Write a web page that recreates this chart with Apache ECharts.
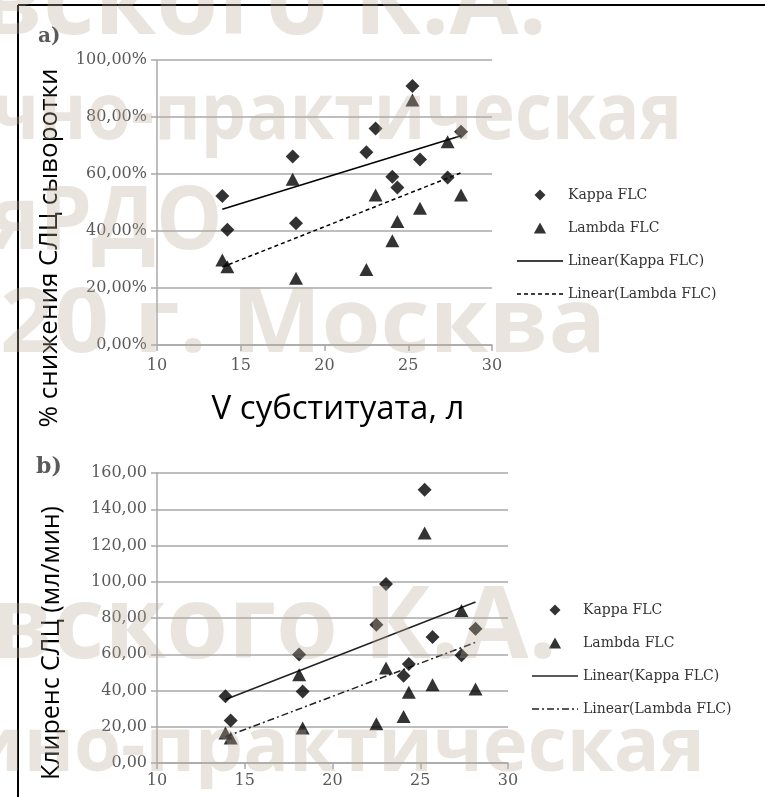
<!DOCTYPE html>
<html><head><meta charset="utf-8">
<script src="https://cdn.jsdelivr.net/npm/echarts@6/dist/echarts.min.js"></script>
<style>html,body{margin:0;padding:0;background:#fff}#c{width:765px;height:797px}</style>
</head><body><div id="c"></div>
<script>
// Substitute volume, L (one value per patient)
const volumeL = [13.9, 14.2, 18.1, 18.3, 22.5, 23.05, 24.05, 24.35, 25.25, 25.7, 27.35, 28.15];
// a) % reduction of serum FLC
const kappaReductionPct  = [52.3, 40.4, 66.1, 42.7, 67.6, 76.0, 59.0, 55.3, 90.9, 65.1, 58.8, 74.8];
const lambdaReductionPct = [29.8, 27.5, 58.2, 23.4, 26.5, 52.6, 36.6, 43.3, 86.0, 48.0, 71.3, 52.6];
// b) FLC clearance, ml/min
const kappaClearance  = [36.8, 23.4, 59.8, 39.5, 76.3, 98.8, 48.2, 54.6, 150.8, 69.5, 59.4, 74.1];
const lambdaClearance = [16.6, 13.8, 48.7, 19.3, 21.7, 52.4, 25.7, 39.0, 126.9, 43.2, 84.2, 40.8];
const legendNames = ['Kappa FLC', 'Lambda FLC', 'Linear(Kappa FLC)', 'Linear(Lambda FLC)'];
const xTitle = 'V субституата, л';
const yTitleA = '% снижения СЛЦ сыворотки';
const yTitleB = 'Клиренс СЛЦ (мл/мин)';
const watermarkRows = ['вского К.А.', 'чно-практическая', 'яРДО', '20 г. Москва', 'вского К.А.', 'ино-практическая'];

function pairs(xs, ys) { return xs.map((x, i) => [x, ys[i]]); }
function trend(xs, ys) {
  const n = xs.length;
  const mx = xs.reduce((a, b) => a + b, 0) / n;
  const my = ys.reduce((a, b) => a + b, 0) / n;
  let sxy = 0, sxx = 0;
  for (let i = 0; i < n; i++) { sxy += (xs[i] - mx) * (ys[i] - my); sxx += (xs[i] - mx) ** 2; }
  const b = sxy / sxx, a = my - b * mx;
  const x0 = Math.min(...xs), x1 = Math.max(...xs);
  return [[x0, a + b * x0], [x1, a + b * x1]];
}

const gridCol = '#a9a9a9';
const labelFont = { color: '#5a5a5a', fontFamily: 'DejaVu Serif', fontSize: 16 };
function xAx(gi, margin) {
  return {
    gridIndex: gi, type: 'value', min: 10, max: 30, interval: 5,
    axisLine: { show: true, lineStyle: { color: gridCol, width: 1.5 } },
    axisTick: { show: true, length: 6, lineStyle: { color: gridCol, width: 1.5 } },
    splitLine: { show: false },
    axisLabel: Object.assign({ margin: margin }, labelFont)
  };
}
function yAx(gi, max, fmt) {
  return {
    gridIndex: gi, type: 'value', min: 0, max: max, interval: 20,
    axisLine: { show: true, lineStyle: { color: gridCol, width: 1.5 } },
    axisTick: { show: true, length: 6, lineStyle: { color: gridCol, width: 1.5 } },
    splitLine: { show: true, lineStyle: { color: gridCol, width: 1.5 } },
    axisLabel: Object.assign({ margin: 10, formatter: fmt }, labelFont)
  };
}
const fmtPct = v => v.toFixed(2).replace('.', ',') + '%';
const fmtNum = v => v.toFixed(2).replace('.', ',');

function scatter(name, gi, xs, ys, sym, size, col) {
  return { type: 'scatter', name: name, xAxisIndex: gi, yAxisIndex: gi, data: pairs(xs, ys),
    symbol: sym, symbolSize: size, itemStyle: { color: col }, z: 3 };
}
function tline(name, gi, xs, ys, col, type) {
  return { type: 'line', name: name, xAxisIndex: gi, yAxisIndex: gi, data: trend(xs, ys),
    symbol: 'none', showSymbol: false, lineStyle: { color: col, width: 1.5, type: type },
    itemStyle: { color: col }, z: 2 };
}
// legend line icons built as filled dash segments (46 wide, 1.6 tall)
function dashIcon(pattern) {
  let d = '', x = 0, on = true, i = 0;
  while (x < 46) {
    const len = Math.min(pattern[i % pattern.length], 46 - x);
    if (on) d += 'M' + x + ',0h' + len + 'v1.6h-' + len + 'z';
    x += len; on = !on; i++;
  }
  return 'path://' + d;
}
const diamondIcon = 'path://M5,0L10,5L5,10L0,5Z';
const triangleIcon = 'path://M5,0L10,9L0,9Z';

function legendData(suffix, lambdaPattern) {
  return [
    { name: legendNames[0] + suffix, icon: diamondIcon },
    { name: legendNames[1] + suffix, icon: triangleIcon },
    { name: legendNames[2] + suffix, icon: dashIcon([46]) },
    { name: legendNames[3] + suffix, icon: dashIcon(lambdaPattern) }
  ];
}
const legendBase = {
  orient: 'vertical', itemWidth: 46, itemHeight: 11, itemGap: 15, symbolKeepAspect: true,
  textStyle: { fontFamily: 'DejaVu Serif', fontSize: 14, color: '#333', lineHeight: 18 },
  formatter: n => n.split('|')[0], selectedMode: false
};

function wm(text, x, baseline, size, sx) {
  return { type: 'text', x: x, y: baseline - size * 0.3, scaleX: sx, z: 100, silent: true,
    style: { text: text, fontSize: size, fontFamily: 'Open Sans', fontWeight: 'bold',
      fill: 'rgba(190,172,155,0.32)', shadowColor: 'rgba(215,160,155,0.25)', shadowBlur: 5,
      verticalAlign: 'middle', align: 'left' } };
}

const option = {
  animation: false,
  backgroundColor: '#fff',
  grid: [
    { left: 157, top: 60, width: 335, height: 285 },
    { left: 157, top: 473, width: 351, height: 290 }
  ],
  xAxis: [xAx(0, 13), xAx(1, 10)],
  yAxis: [yAx(0, 100, fmtPct), yAx(1, 160, fmtNum)],
  legend: [
    Object.assign({ left: 512, top: 181, data: legendData('|a', [4, 3]) }, legendBase),
    Object.assign({ left: 527, top: 596, data: legendData('|b', [7, 3, 2, 3]) }, legendBase)
  ],
  series: [
    scatter(legendNames[0] + '|a', 0, volumeL, kappaReductionPct, 'diamond', 14, '#000'),
    scatter(legendNames[1] + '|a', 0, volumeL, lambdaReductionPct, 'triangle', [14, 13], '#000'),
    tline(legendNames[2] + '|a', 0, volumeL, kappaReductionPct, '#000', 'solid'),
    tline(legendNames[3] + '|a', 0, volumeL, lambdaReductionPct, '#000', [4, 3]),
    scatter(legendNames[0] + '|b', 1, volumeL, kappaClearance, 'diamond', 14, '#000'),
    scatter(legendNames[1] + '|b', 1, volumeL, lambdaClearance, 'triangle', [14, 13], '#000'),
    tline(legendNames[2] + '|b', 1, volumeL, kappaClearance, '#222', 'solid'),
    tline(legendNames[3] + '|b', 1, volumeL, lambdaClearance, '#222', [7, 3, 2, 3])
  ],
  graphic: [
    { type: 'line', shape: { x1: 18, y1: 5, x2: 765, y2: 5 }, style: { stroke: '#000', lineWidth: 2 }, z: 50 },
    { type: 'line', shape: { x1: 18, y1: 5, x2: 18, y2: 797 }, style: { stroke: '#000', lineWidth: 2 }, z: 50 },
    { type: 'text', x: 38, y: 37, style: { text: 'a)', font: 'bold 20px "DejaVu Serif"', fill: '#5a5a5a', verticalAlign: 'middle' } },
    { type: 'text', x: 36, y: 467, style: { text: 'b)', font: 'bold 22px "DejaVu Serif"', fill: '#5a5a5a', verticalAlign: 'middle' } },
    { type: 'text', x: 50, y: 248, rotation: Math.PI / 2, style: { text: yTitleA, font: '26px "Open Sans"', fill: '#000', align: 'center', verticalAlign: 'middle' } },
    { type: 'text', x: 52, y: 643, rotation: Math.PI / 2, style: { text: yTitleB, font: '25px "Open Sans"', fill: '#000', align: 'center', verticalAlign: 'middle' } },
    { type: 'text', x: 338, y: 410, style: { text: xTitle, font: '33px "Open Sans"', fill: '#000', align: 'center', verticalAlign: 'middle' } },
    wm(watermarkRows[0], -20, 36, 100, 1.0),
    wm(watermarkRows[1], -8, 140, 78, 0.92),
    wm(watermarkRows[2], -10, 250, 88, 0.95),
    wm(watermarkRows[3], 0, 353, 90, 1.06),
    wm(watermarkRows[4], -10, 660, 100, 1.0),
    wm(watermarkRows[5], -31, 772, 76, 1.0)
  ]
};
const chart = echarts.init(document.getElementById('c'), null, { renderer: 'canvas' });
chart.setOption(option);
</script></body></html>
